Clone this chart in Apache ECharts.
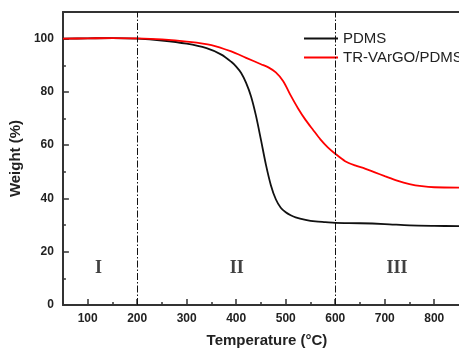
<!DOCTYPE html>
<html>
<head>
<meta charset="utf-8">
<script src="https://cdn.jsdelivr.net/npm/echarts@6/dist/echarts.min.js"></script>
<style>
  html, body { margin: 0; padding: 0; background: #fff; }
  #chart { width: 459px; height: 353px; }
</style>
</head>
<body>
<div id="chart"></div>
<script>
// TGA curves
const pdmsTemp = [50, 100, 150, 200, 250, 300, 340, 370, 390, 400, 410, 420, 430, 440, 450, 460, 470, 480, 490, 500, 510, 520, 540, 560, 580, 600, 650, 700, 750, 800, 850]
const pdmsWeight = [100, 100.1, 100.2, 100, 99.3, 98.1, 96.4, 94, 91.3, 89.5, 87.1, 83.4, 78.3, 71, 62, 52.7, 45, 39.7, 36.5, 34.8, 33.7, 32.9, 32, 31.4, 31.1, 30.8, 30.7, 30.4, 29.9, 29.7, 29.6]

const trTemp = [50, 100, 150, 200, 250, 300, 350, 390, 420, 450, 465, 480, 495, 510, 525, 540, 555, 570, 585, 600, 620, 640, 660, 680, 700, 725, 750, 775, 800, 850]
const trWeight = [100, 100.1, 100.2, 100.1, 99.7, 98.9, 97.6, 95.2, 92.8, 90.4, 89.2, 87.3, 84, 78.7, 73.8, 69.5, 65.8, 62.2, 59.2, 56.8, 54, 52.4, 51.2, 49.8, 48.4, 46.7, 45.4, 44.6, 44.2, 44.1]

const seriesNames = ['PDMS', 'TR-VArGO/PDMS']
const seriesColors = ['#111111', '#ff0000']

const xMajorTicks = [100, 200, 300, 400, 500, 600, 700, 800]
const xMinorTicks = [150, 250, 350, 450, 550, 650, 750]
const yMajorTicks = [0, 20, 40, 60, 80, 100]
const yMinorTicks = [10, 30, 50, 70, 90]

const stageBounds = [200, 600]
const stageLabels = ['I', 'II', 'III']
const stageLabelX = [122, 401, 725]
const stageLabelY = [13.8, 13.8, 13.8]

const axisColor = '#333'
const labelFont = { fontFamily: 'Liberation Sans', fontWeight: 'bold', fontSize: 12, color: '#222' }

const chart = echarts.init(document.getElementById('chart'))

const xBase = { type: 'value', min: 50, max: 850, splitLine: { show: false } }
const yBase = { type: 'value', min: 0, max: 110, splitLine: { show: false } }

const option = {
  animation: false,
  grid: { left: 58, top: 12, width: 408, height: 298 },
  legend: {
    data: seriesNames,
    orient: 'vertical',
    left: 299,
    top: 26,
    icon: 'rect',
    itemWidth: 34,
    itemHeight: 2,
    itemGap: 4,
    textStyle: { fontFamily: 'Liberation Sans', fontSize: 15, color: '#222', lineHeight: 15 },
  },
  xAxis: [
    {
      ...xBase,
      position: 'bottom',
      name: 'Temperature (°C)',
      nameLocation: 'middle',
      nameGap: 28,
      nameTextStyle: { fontFamily: 'Liberation Sans', fontWeight: 'bold', fontSize: 15, color: '#222', padding: [0, 0, 0, 12] },
      axisLine: { lineStyle: { color: axisColor, width: 2 } },
      axisTick: { inside: true, length: 6, customValues: xMajorTicks, lineStyle: { color: axisColor, width: 1.5 } },
      axisLabel: { ...labelFont, margin: 8, customValues: xMajorTicks },
    },
    {
      ...xBase,
      position: 'bottom',
      axisLine: { show: false },
      axisTick: { inside: true, length: 3, customValues: xMinorTicks, lineStyle: { color: axisColor, width: 1.5 } },
      axisLabel: { show: false },
    },
    {
      ...xBase,
      position: 'top',
      axisLine: { lineStyle: { color: axisColor, width: 2 } },
      axisTick: { show: false },
      axisLabel: { show: false },
    },
  ],
  yAxis: [
    {
      ...yBase,
      name: 'Weight (%)',
      nameLocation: 'middle',
      nameGap: 32,
      nameTextStyle: { fontFamily: 'Liberation Sans', fontWeight: 'bold', fontSize: 15, color: '#222' },
      axisLine: { show: true, lineStyle: { color: axisColor, width: 2 } },
      axisTick: { show: true, inside: true, length: 6, customValues: yMajorTicks, lineStyle: { color: axisColor, width: 1.5 } },
      axisLabel: { ...labelFont, margin: 9, customValues: yMajorTicks },
    },
    {
      ...yBase,
      position: 'left',
      axisLine: { show: false },
      axisTick: { show: true, inside: true, length: 3, customValues: yMinorTicks, lineStyle: { color: axisColor, width: 1.5 } },
      axisLabel: { show: false },
    },
  ],
  series: [
    {
      name: seriesNames[0],
      type: 'line',
      smooth: 0.3,
      showSymbol: false,
      symbol: 'none',
      color: seriesColors[0],
      lineStyle: { width: 1.8 },
      data: pdmsTemp.map((t, i) => [t, pdmsWeight[i]]),
      markLine: {
        silent: true,
        symbol: 'none',
        label: { show: false },
        lineStyle: { color: '#111', width: 1, type: [7, 2, 1.5, 2] },
        data: stageBounds.map((x) => ({ xAxis: x })),
      },
    },
    {
      name: seriesNames[1],
      type: 'line',
      smooth: 0.3,
      showSymbol: false,
      symbol: 'none',
      color: seriesColors[1],
      lineStyle: { width: 1.8 },
      data: trTemp.map((t, i) => [t, trWeight[i]]),
    },
    {
      name: 'stages',
      type: 'scatter',
      symbolSize: 0,
      silent: true,
      label: {
        show: true,
        position: 'inside',
        formatter: (p) => p.data[2],
        fontFamily: 'Liberation Serif',
        fontWeight: 'bold',
        fontSize: 18,
        color: '#111',
      },
      data: stageLabels.map((s, i) => [stageLabelX[i], stageLabelY[i], s]),
    },
  ],
}

chart.setOption(option)
</script>
</body>
</html>
